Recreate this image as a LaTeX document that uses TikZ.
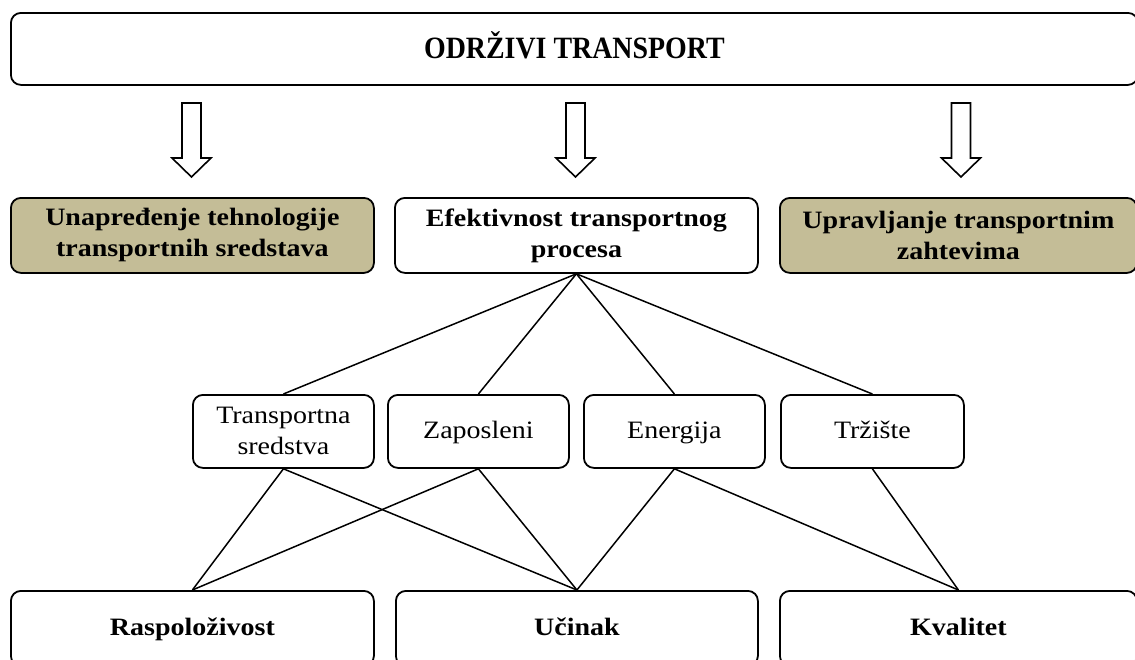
\documentclass[tikz,border=0pt]{standalone}
\usepackage{fontspec}
\setmainfont{Liberation Serif}[FakeStretch=1.12]
\newfontfamily\titlefont{Liberation Serif}[FakeStretch=0.9]
\definecolor{tanfill}{RGB}{196,189,151}
\begin{document}
\begin{tikzpicture}[x=1pt,y=-1pt,
  box/.style={draw=black, line width=1.8pt, rounded corners=10pt, inner sep=0pt,
    align=center, anchor=north west, font=\fontsize{25}{31}\selectfont},
  one/.style={text height=16pt, text depth=1pt},
  bbox/.style={box, font=\fontsize{25}{31}\selectfont\bfseries},
  tanbox/.style={bbox, fill=tanfill},
  link/.style={draw=black, line width=1.5pt},
  blockarrow/.style={draw=black, line width=1.6pt, fill=white}]
\useasboundingbox (0,0) rectangle (1135,659);
\clip (0,0) rectangle (1135,659);
% top
\node[box, minimum width=1127pt, minimum height=72pt, text height=20pt, text depth=1pt,
  font=\fontsize{31}{37}\titlefont\bfseries] (top) at (10,12) {ODRŽIVI TRANSPORT};
% level 2
\node[tanbox, minimum width=363pt, minimum height=75pt] (tech) at (10,197)
  {Unapređenje tehnologije\\transportnih sredstava};
\node[bbox, minimum width=363pt, minimum height=75pt] (eff) at (394,197)
  {Efektivnost transportnog\\procesa};
\node[tanbox, minimum width=357pt, minimum height=75pt] (upr) at (779,197)
  {Upravljanje transportnim\\zahtevima};
% block arrows
\foreach \cx in {191.5,575.5,961} {
  \draw[blockarrow] (\cx-9.5,103) -- (\cx+9.5,103) -- (\cx+9.5,158) -- (\cx+19.5,158)
    -- (\cx,177) -- (\cx-19.5,158) -- (\cx-9.5,158) -- cycle;
}
% level 3
\node[box, minimum width=181pt, minimum height=73pt] (ts) at (192,394) {Transportna\\sredstva};
\node[box, one, minimum width=181pt, minimum height=73pt] (zap) at (387,394) {Zaposleni};
\node[box, one, minimum width=181pt, minimum height=73pt] (ene) at (583,394) {Energija};
\node[box, one, minimum width=183pt, minimum height=73pt] (trz) at (780,394) {Tržište};
% bottom
\node[bbox, one, minimum width=363pt, minimum height=75pt] (ras) at (10,590) {Raspoloživost};
\node[bbox, one, minimum width=362pt, minimum height=75pt] (uci) at (395,590) {Učinak};
\node[bbox, one, minimum width=357pt, minimum height=75pt] (kva) at (779,590) {Kvalitet};
% connectors
\foreach \n in {ts,zap,ene,trz} { \draw[link] (eff.south) -- (\n.north); }
\draw[link] (ts.south) -- (ras.north);
\draw[link] (ts.south) -- (uci.north);
\draw[link] (zap.south) -- (ras.north);
\draw[link] (zap.south) -- (uci.north);
\draw[link] (ene.south) -- (uci.north);
\draw[link] (ene.south) -- (kva.north);
\draw[link] (trz.south) -- (kva.north);
\end{tikzpicture}
\end{document}
